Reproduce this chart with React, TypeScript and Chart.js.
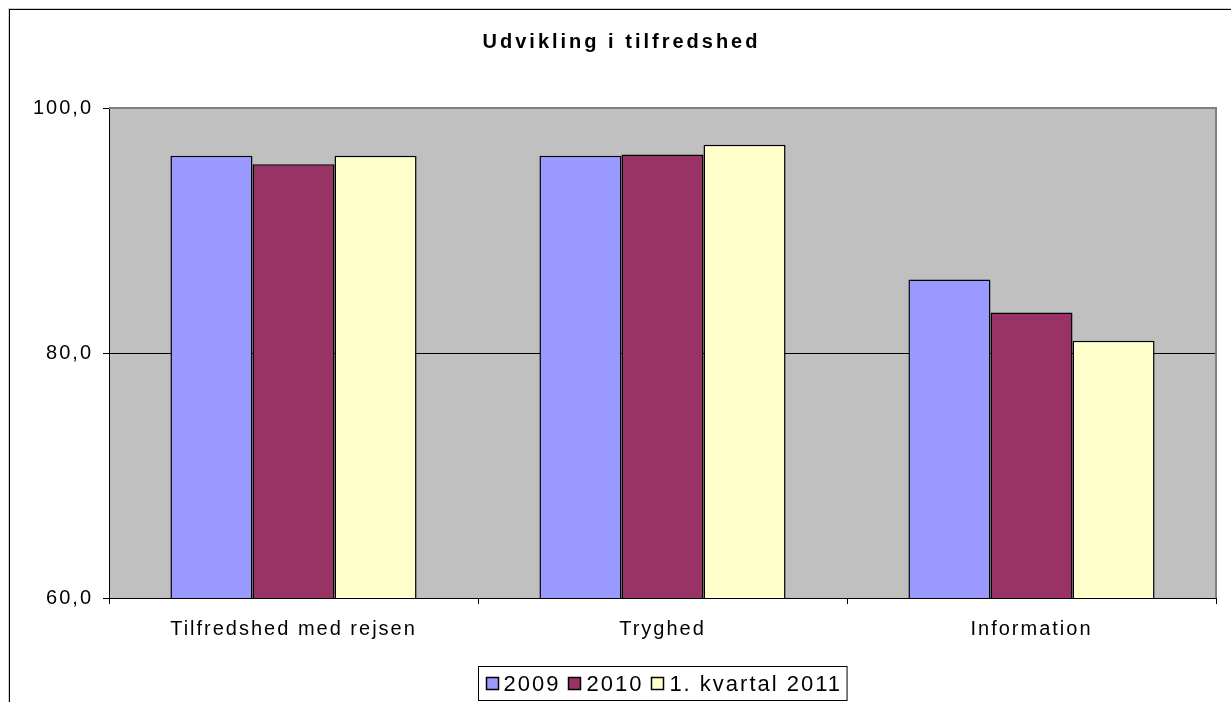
import { useEffect, useRef } from 'react';
import { Chart, registerables } from 'chart.js';

Chart.register(...registerables);

const chartTitle = 'Udvikling i tilfredshed';
const categories = ['Tilfredshed med rejsen', 'Tryghed', 'Information'];
const seriesLabels = ['2009', '2010', '1. kvartal 2011'];
const values2009 = [96.1, 96.1, 86.0];
const values2010 = [95.4, 96.2, 83.3];
const valuesQ1_2011 = [96.1, 97.0, 81.0];
const seriesColors = ['#9999FF', '#993366', '#FFFFCC'];
const yTickValues = [60, 80, 100];
const yTickLabels = ['60,0', '80,0', '100,0'];

const FONT = '"Liberation Sans", Arial, sans-serif';

const decorPlugin = {
  id: 'decor',
  beforeDraw(chart: any) {
    const { ctx, chartArea } = chart;
    ctx.save();
    ctx.fillStyle = '#C0C0C0';
    ctx.fillRect(chartArea.left, chartArea.top, chartArea.right - chartArea.left, chartArea.bottom - chartArea.top);
    ctx.restore();
    (ctx as any).letterSpacing = '2px';
  },
  afterDraw(chart: any) {
    const { ctx, chartArea, width, height } = chart;
    ctx.save();
    // plot area border (top / right)
    ctx.fillStyle = '#808080';
    ctx.fillRect(chartArea.left, chartArea.top - 1, chartArea.right - chartArea.left + 1, 2);
    ctx.fillRect(chartArea.right - 1, chartArea.top - 1, 2, chartArea.bottom - chartArea.top + 1);
    // outer frame (left / top)
    ctx.fillStyle = '#D0D0D0';
    ctx.fillRect(0, 0, width, 1);
    ctx.fillRect(0, 0, 1, height);
    ctx.fillStyle = '#000';
    ctx.fillRect(1, 1, width, 1);
    ctx.fillRect(1, 1, 1, height);

    // title
    (ctx as any).letterSpacing = '3px';
    ctx.font = `bold 20px ${FONT}`;
    ctx.fillStyle = '#000';
    ctx.textAlign = 'center';
    ctx.textBaseline = 'alphabetic';
    ctx.fillText(chartTitle, width / 2 + 2, 39.5);

    // legend
    (ctx as any).letterSpacing = '2px';
    ctx.font = `22px ${FONT}`;
    ctx.textAlign = 'left';
    ctx.textBaseline = 'middle';
    const ds = chart.data.datasets;
    const padL = 7, marker = 13, gapM = 5, gapItem = 8, padR = 5;
    const widths = ds.map((d: any) => ctx.measureText(d.label).width);
    let total = padL + padR;
    ds.forEach((_: any, i: number) => {
      total += marker + gapM + widths[i] + (i < ds.length - 1 ? gapItem : 0);
    });
    const cx = (chartArea.left + chartArea.right) / 2;
    const boxL = Math.round(cx - total / 2) + 0.5;
    const boxT = 658.5;
    const boxH = 34;
    ctx.strokeStyle = '#000';
    ctx.lineWidth = 1;
    ctx.strokeRect(boxL, boxT, total, boxH);
    let x = boxL + padL;
    const cy = boxT + boxH / 2;
    ds.forEach((d: any, i: number) => {
      ctx.fillStyle = d.backgroundColor;
      ctx.fillRect(Math.round(x), Math.round(cy - marker / 2), marker, marker);
      ctx.lineWidth = 1.5;
      ctx.strokeRect(Math.round(x) + 0.5, Math.round(cy - marker / 2) + 0.5, marker - 1, marker - 1);
      ctx.lineWidth = 1;
      x += marker + gapM;
      ctx.fillStyle = '#000';
      ctx.fillText(d.label, x, cy + 1);
      x += widths[i] + gapItem;
    });
    ctx.restore();
  },
};

export default function App() {
  const ref = useRef<HTMLCanvasElement | null>(null);

  useEffect(() => {
    if (!ref.current) return;
    const allValues = [values2009, values2010, valuesQ1_2011];
    const chart = new Chart(ref.current, {
      type: 'bar',
      data: {
        labels: categories,
        datasets: seriesLabels.map((label, i) => ({
          label,
          data: allValues[i],
          backgroundColor: seriesColors[i],
          borderColor: '#000',
          borderWidth: 1.5,
          borderSkipped: 'bottom' as const,
          categoryPercentage: 0.667,
          barPercentage: 1,
        })),
      },
      options: {
        animation: false,
        responsive: true,
        maintainAspectRatio: false,
        layout: { padding: { top: 100, right: 15, left: 0, bottom: 0 } },
        plugins: {
          legend: { display: false },
          title: { display: false },
          tooltip: { enabled: false },
        },
        scales: {
          x: {
            offset: true,
            grid: {
              offset: true,
              drawOnChartArea: false,
              drawTicks: true,
              tickLength: 6,
              color: '#000',
              tickColor: '#000',
            },
            border: { color: '#000', width: 1 },
            ticks: {
              color: '#000',
              font: { family: FONT, size: 20 },
              padding: 13,
              maxRotation: 0,
              autoSkip: false,
            },
            afterFit: (scale: any) => {
              scale.height = 104;
            },
          },
          y: {
            min: 60,
            max: 100,
            afterBuildTicks: (scale: any) => {
              scale.ticks = yTickValues.map((v) => ({ value: v }));
            },
            grid: {
              color: (c: any) => (c.tick && c.tick.value === 80 ? '#000' : 'rgba(0,0,0,0)'),
              tickColor: '#000',
              tickLength: 6,
              drawTicks: true,
            },
            border: { color: '#000', width: 1 },
            ticks: {
              color: '#000',
              font: { family: FONT, size: 20 },
              padding: 10,
              callback: (_v: any, i: number) => yTickLabels[i],
            },
            afterFit: (scale: any) => {
              scale.width = 101;
            },
          },
        },
      },
      plugins: [decorPlugin],
    });
    return () => chart.destroy();
  }, []);

  return (
    <div style={{ position: 'fixed', left: 8, top: 8, width: 1223, height: 694 }}>
      <canvas ref={ref} />
    </div>
  );
}
